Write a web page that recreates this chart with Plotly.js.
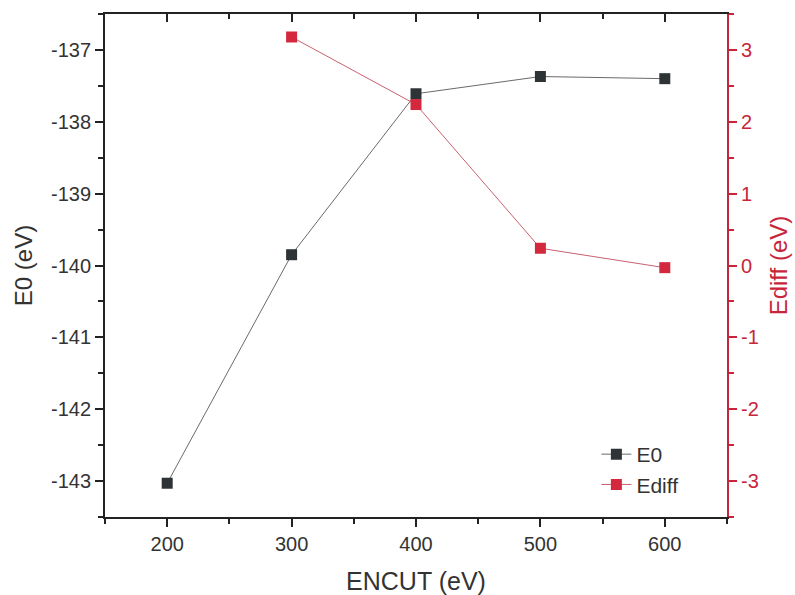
<!DOCTYPE html>
<html>
<head>
<meta charset="utf-8">
<script src="https://cdn.plot.ly/plotly-3.0.1.min.js"></script>
<style>html,body{margin:0;padding:0;background:#fff;}#chart{width:795px;height:595px;}</style>
</head>
<body>
<div id="chart"></div>
<script>
const encut = [200, 300, 400, 500, 600];
const e0 = [-143.03, -139.85, -137.61, -137.37, -137.40];
const encutDiff = [300, 400, 500, 600];
const ediff = [3.18, 2.24, 0.24, -0.03];

const e0Ticks = [-143, -142, -141, -140, -139, -138, -137];
const e0TickText = ['-143', '-142', '-141', '-140', '-139', '-138', '-137'];
const ediffTicks = [-3, -2, -1, 0, 1, 2, 3];
const ediffTickText = ['-3', '-2', '-1', '0', '1', '2', '3'];

const red = '#c8253a';
const font = 'Liberation Sans, Arial, sans-serif';

const traces = [
  {x: encut, y: e0, name: 'E0', mode: 'lines+markers', xaxis: 'x', yaxis: 'y',
   line: {color: '#6a6a6a', width: 1}, marker: {symbol: 'square', size: 11, color: '#2e3436'}},
  {x: encutDiff, y: ediff, name: 'Ediff', mode: 'lines+markers', xaxis: 'x', yaxis: 'y2',
   line: {color: '#c86070', width: 1}, marker: {symbol: 'square', size: 11, color: '#d4283e'}},
  {x: [], y: [], xaxis: 'x2', yaxis: 'y', showlegend: false, hoverinfo: 'skip'}
];

const layout = {
  width: 795, height: 595,
  margin: {l: 105, r: 68, t: 14, b: 78},
  paper_bgcolor: '#fff', plot_bgcolor: '#fff',
  font: {family: font, color: '#333', size: 20},
  showlegend: true,
  legend: {x: 0.79, y: 0.165, xanchor: 'left', yanchor: 'top', bgcolor: 'rgba(0,0,0,0)',
           font: {size: 21, color: '#333'}, tracegroupgap: 0},
  xaxis: {range: [150, 650], dtick: 100, tick0: 200, ticks: 'outside', ticklen: 8, tickwidth: 2,
          tickcolor: '#222', showline: true, linecolor: '#222', linewidth: 2, showgrid: false,
          zeroline: false, tickfont: {size: 20, color: '#333'},
          minor: {dtick: 50, ticks: 'outside', ticklen: 5, tickwidth: 2, tickcolor: '#222', showgrid: false},
          title: {text: 'ENCUT (eV)', font: {size: 25, color: '#333'}, standoff: 18}},
  xaxis2: {range: [150, 650], dtick: 100, tick0: 200, overlaying: 'x', side: 'top', anchor: 'y',
           ticks: 'inside', ticklen: 8, tickwidth: 2, tickcolor: '#222', showline: true,
           linecolor: '#222', linewidth: 2, showgrid: false, zeroline: false, showticklabels: false,
           minor: {dtick: 50, ticks: 'inside', ticklen: 5, tickwidth: 2, tickcolor: '#222', showgrid: false}},
  yaxis: {range: [-143.5, -136.5], tickmode: 'array', tickvals: e0Ticks, ticktext: e0TickText,
          ticks: 'outside', ticklen: 8, tickwidth: 2,
          tickcolor: '#222', showline: true, linecolor: '#222', linewidth: 2, showgrid: false,
          zeroline: false, tickfont: {size: 20, color: '#333'},
          minor: {dtick: 0.5, ticks: 'outside', ticklen: 5, tickwidth: 2, tickcolor: '#222', showgrid: false},
          title: {text: 'E0 (eV)', font: {size: 24, color: '#333'}, standoff: 12}},
  yaxis2: {range: [-3.5, 3.5], tickmode: 'array', tickvals: ediffTicks, ticktext: ediffTickText,
           overlaying: 'y', side: 'right', anchor: 'x',
           ticks: 'outside', ticklen: 8, tickwidth: 2, tickcolor: red, showline: true,
           linecolor: red, linewidth: 2, showgrid: false, zeroline: false,
           tickfont: {size: 20, color: red},
           minor: {dtick: 0.5, ticks: 'outside', ticklen: 5, tickwidth: 2, tickcolor: red, showgrid: false},
           title: {text: 'Ediff (eV)', font: {size: 24, color: red}, standoff: 12}}
};

Plotly.newPlot('chart', traces, layout, {displayModeBar: false, staticPlot: true});
</script>
</body>
</html>
